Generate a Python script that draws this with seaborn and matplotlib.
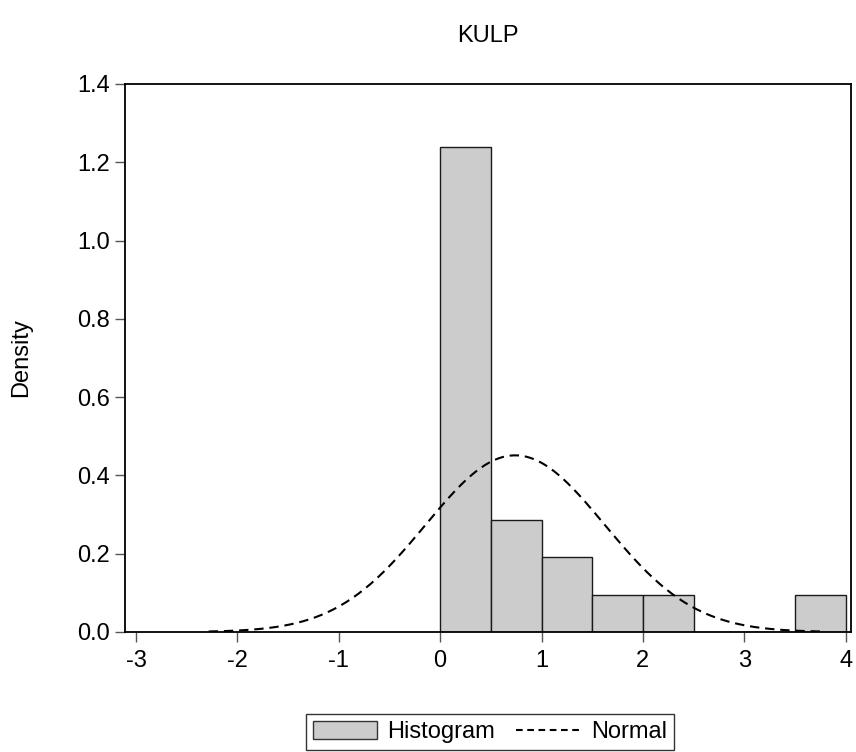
import numpy as np
import pandas as pd
import matplotlib
matplotlib.use("Agg")
import matplotlib.pyplot as plt
import seaborn as sns
from matplotlib.patches import Patch
from matplotlib.lines import Line2D

# Histogram of KULP: bin edges, bin centres and observation counts per bin
bin_edges = [0.0, 0.5, 1.0, 1.5, 2.0, 2.5, 3.0, 3.5, 4.0]
bin_centers = [0.25, 0.75, 1.25, 1.75, 2.25, 2.75, 3.25, 3.75]
bin_counts = [13, 3, 2, 1, 1, 0, 0, 1]

# Fitted normal density parameters
normal_mean = 0.74
normal_sd = 0.884
normal_span = 3.42  # curve drawn over mean +/- span * sd

x_ticks = [-3, -2, -1, 0, 1, 2, 3, 4]
y_ticks = [0.0, 0.2, 0.4, 0.6, 0.8, 1.0, 1.2, 1.4]
y_tick_labels = ["0.0", "0.2", "0.4", "0.6", "0.8", "1.0", "1.2", "1.4"]

sns.set_theme(style="white")
plt.rcParams["font.family"] = ["Liberation Sans", "DejaVu Sans"]
plt.rcParams["text.color"] = "black"
plt.rcParams["axes.labelcolor"] = "black"

fig = plt.figure(figsize=(8.56, 7.52), dpi=100)
ax = fig.add_axes([0.146, 0.1596, 0.8478, 0.7287])

hist_df = pd.DataFrame({"value": bin_centers, "count": bin_counts})
sns.histplot(data=hist_df, x="value", weights="count", bins=bin_edges,
             stat="density", color="#cccccc", alpha=1.0,
             edgecolor="#1a1a1a", linewidth=1.0, ax=ax)

xs = np.linspace(normal_mean - normal_span * normal_sd,
                 normal_mean + normal_span * normal_sd, 300)
pdf = np.exp(-0.5 * ((xs - normal_mean) / normal_sd) ** 2) / (normal_sd * np.sqrt(2 * np.pi))
sns.lineplot(x=xs, y=pdf, ax=ax, color="black", linewidth=1.5,
             linestyle=(0, (4.5, 2.8)))

ax.set_xlim(-3.109, 4.05)
ax.set_ylim(0, 1.4)
ax.set_xticks(x_ticks)
ax.set_xticklabels([str(t) for t in x_ticks])
ax.set_yticks(y_ticks)
ax.set_yticklabels(y_tick_labels)
ax.tick_params(axis="both", which="major", direction="out", length=7,
               width=1.0, color="#555555", labelsize=17, labelcolor="black",
               bottom=True, left=True, pad=4)
ax.tick_params(axis="x", pad=6)
ax.set_xlabel("")
ax.set_ylabel("Density", fontsize=17, labelpad=32, color="black")
ax.set_title("KULP", fontsize=17, pad=30, color="black")

for side in ["left", "right", "top", "bottom"]:
    ax.spines[side].set_visible(True)
    ax.spines[side].set_color("black")
    ax.spines[side].set_linewidth(1.3)

handles = [
    Patch(facecolor="#cccccc", edgecolor="#333333", linewidth=1.0, label="Histogram"),
    Line2D([0], [0], color="black", linewidth=1.5, linestyle=(0, (3.2, 2.2)), label="Normal"),
]
leg = fig.legend(handles=handles, loc="lower center", bbox_to_anchor=(0.5724, 0.002),
                 ncol=2, frameon=True, fontsize=17, fancybox=False,
                 handlelength=2.7, handleheight=0.8, columnspacing=0.9,
                 handletextpad=0.45, borderpad=0.3, borderaxespad=0.0)
leg.get_frame().set_edgecolor("black")
leg.get_frame().set_linewidth(1.0)
for txt in leg.get_texts():
    txt.set_color("black")

fig.savefig("out.png", dpi=100)
